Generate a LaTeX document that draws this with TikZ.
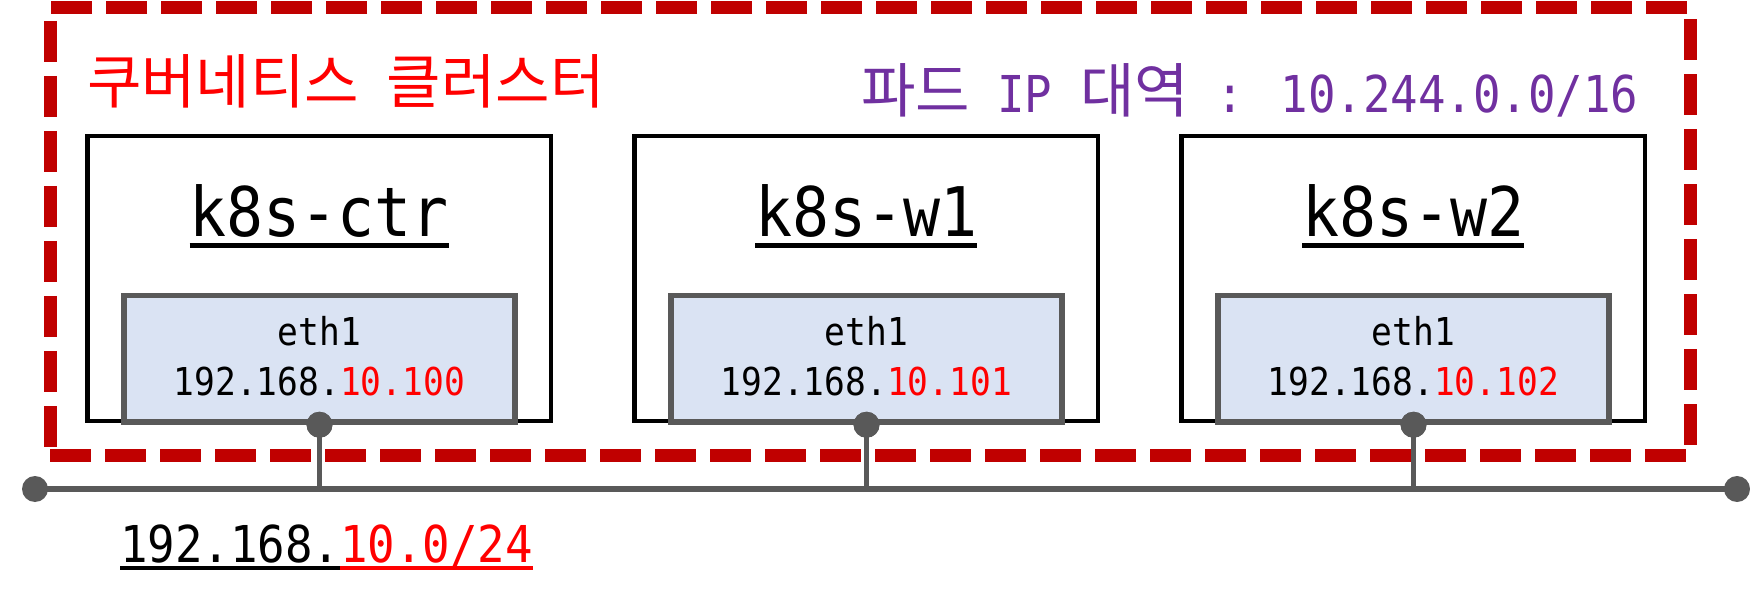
\documentclass[tikz,border=0pt]{standalone}
\usepackage{fontspec}
\newfontfamily\mono[FakeStretch=0.9]{DejaVu Sans Mono}
\newfontfamily\cjk{Noto Sans CJK KR}
\definecolor{dred}{HTML}{C00000}
\definecolor{pred}{HTML}{FF0000}
\definecolor{purp}{HTML}{7030A0}
\definecolor{gry}{HTML}{595959}
\definecolor{lblue}{HTML}{DAE3F3}
\newcommand\kr[1]{{\cjk\fontsize{29.6}{33}\selectfont #1}}
\begin{document}
\begin{tikzpicture}[x=0.5pt,y=-0.5pt,
  txt/.style={inner sep=0pt, outer sep=0pt},
  hosttitle/.style={txt, anchor=base, font=\mono\fontsize{34.2}{40}\selectfont},
  ethtxt/.style={txt, anchor=base, font=\mono\fontsize{19.2}{22}\selectfont},
  bigtxt/.style={txt, anchor=base west, font=\mono\fontsize{25.4}{30}\selectfont},
  ul/.style={line width=2.25pt},
  cluster/.style={draw=dred, line width=6.5pt, dash pattern=on 20.5pt off 7pt,
     minimum width=820pt, minimum height=223.5pt, inner sep=0pt},
  hostbox/.style={draw=black, line width=2.25pt, fill=white,
     minimum width=231.75pt, minimum height=142.5pt, inner sep=0pt},
  ethbox/.style={draw=gry, line width=2.75pt, fill=lblue,
     minimum width=195.5pt, minimum height=63.25pt, inner sep=0pt},
  dot/.style={circle, fill=gry, minimum size=13pt, inner sep=0pt},
  busline/.style={draw=gry, line width=2.6pt},
]
\useasboundingbox (0,0) rectangle (1750,614);

% cluster
\node[cluster] (cl) at (870,231.5) {};
\node[bigtxt, text=pred] (ktitle) at (87,104) {\kr{쿠버네티스} \kr{클러스터}};
\node[bigtxt, text=purp] (pod) at (861,113) {\kr{파드} IP \kr{대역} : 10.244.0.0/16};

% hosts
\foreach \i/\cx/\nm/\ip in {1/319.25/k8s-ctr/100, 2/866.25/k8s-w1/101, 3/1413.25/k8s-w2/102}{
  \node[hostbox] (h\i) at (\cx,278.5) {};
  \node[hosttitle] (t\i) at (\cx,237) {\nm};
  \draw[ul] ([yshift=-4.25pt]t\i.base west) -- ([yshift=-4.25pt]t\i.base east);
  \node[ethbox] (e\i) at (\cx+0.25,358.75) {};
  \node[ethtxt] (n\i) at (\cx,346) {eth1};
  \node[ethtxt] (ip\i) at (\cx,395) {192.168.\textcolor{pred}{10.\ip}};
}

% bus
\coordinate (busL) at (35,489);
\coordinate (busR) at (1737,489);
\draw[busline] (busL) -- (busR);
\foreach \i in {1,2,3}{
  \node[dot] (d\i) at (e\i.south) {};
  \draw[busline] (d\i.center) -- (d\i.center |- busL);
  \node[dot] at (e\i.south) {};
}
\node[dot] (dl) at (busL) {};
\node[dot] (dr) at (busR) {};

% bus label
\node[bigtxt] (la) at (120,562) {192.168.};
\node[bigtxt, text=pred, anchor=base west] (lb) at (la.base east) {10.0/24};
\draw[ul, line width=2pt] ([yshift=-3pt]la.base west) -- ([yshift=-3pt]la.base east);
\draw[ul, line width=2pt, pred] ([yshift=-3pt]lb.base west) -- ([yshift=-3pt]lb.base east);
\end{tikzpicture}
\end{document}
